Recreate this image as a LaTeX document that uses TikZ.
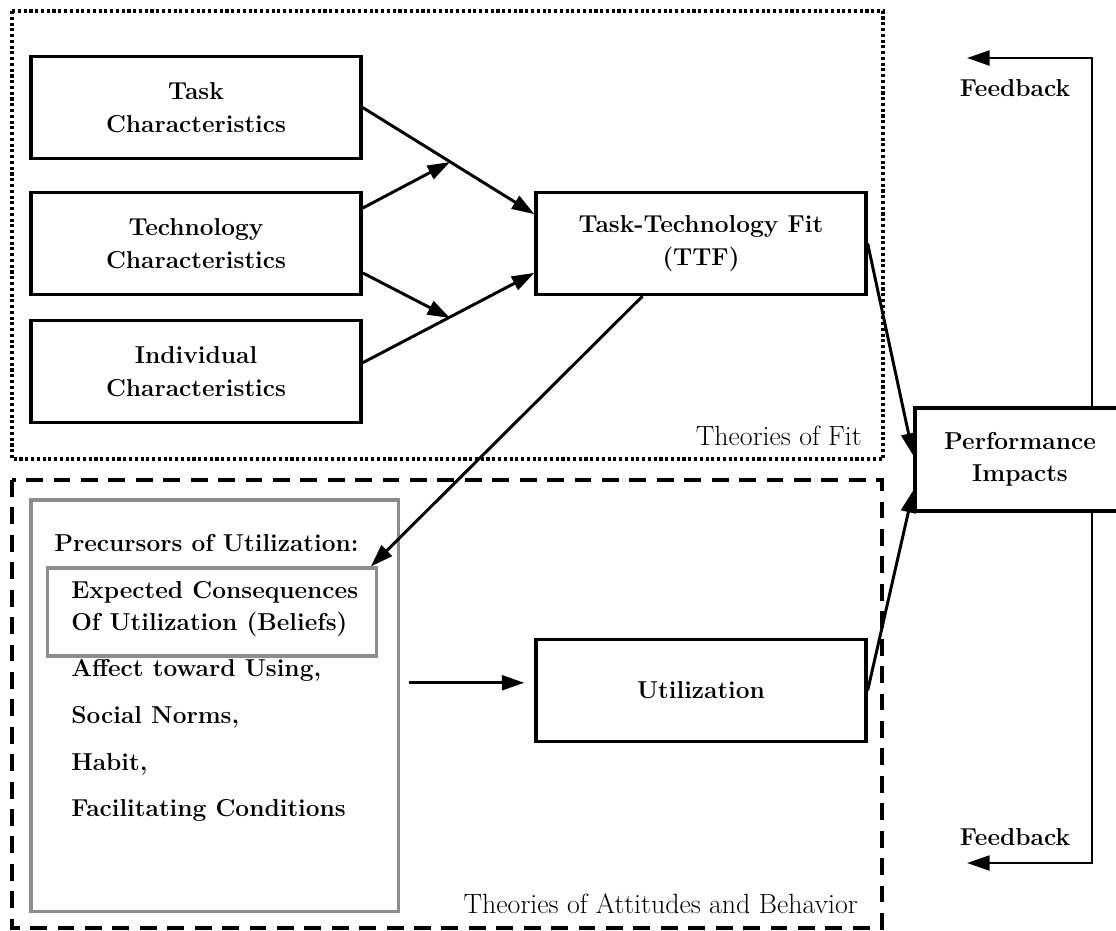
\documentclass[tikz,border=0pt]{standalone}
\usepackage{fontspec}
\usepackage{tikz}
\usetikzlibrary{arrows.meta}

\begin{document}
\begin{tikzpicture}[x=0.025cm, y=-0.025cm,
    box/.style={draw, line width=2.3pt, align=center, minimum width=8.25cm, minimum height=2.55cm, font=\fontsize{17.4}{23}\selectfont\bfseries},
    graybox/.style={draw=black!45, line width=2.2pt},
    txt/.style={font=\fontsize{17.4}{23}\selectfont\bfseries, inner sep=0pt, anchor=base west},
    frametxt/.style={font=\fontsize{19.8}{24}\selectfont, inner sep=0pt, anchor=base east},
    arr/.style={line width=2.1pt, -{Triangle[length=16pt, width=10.5pt]}}]
    \useasboundingbox (0,0) rectangle (1116,930);

    % frames
    \draw[line width=2.4pt, dash pattern=on 2.2pt off 1.9pt] (12,11) rectangle (883,459);
    \draw[line width=2.3pt, dash pattern=on 12pt off 7.5pt] (12,480) rectangle (882,928);
    \node[frametxt] (FitT) at (862,445) {Theories of Fit};
    \node[frametxt] (AttT) at (858,913) {Theories of Attitudes and Behavior};

    \node[box]  (Task)  at (196, 107.5)  {Task \\ Characteristics};
    \node[box]  (Tech)  at (196, 243.5)  {Technology \\ Characteristics};
    \node[box]  (Indiv) at (196, 371.5)  {Individual \\ Characteristics};
    \node[box]  (TTF)   at (701, 243.5)  {Task-Technology Fit \\ (TTF)};
    \node[box]  (Util)  at (701, 690.5)  {Utilization};
    \node[box, minimum width=5.25cm, minimum height=2.575cm] (Perf) at (1020, 459.5) {Performance \\ Impacts};

    \node[graybox, minimum width=9.175cm, minimum height=10.275cm] (Prec) at (214.5, 705.5) {};
    \node[txt] (PrecT) at (54, 551) {Precursors of Utilization:};
    \node[graybox, minimum width=8.24cm, minimum height=2.2cm] (Exp) at (212, 612) {};
    \node[txt] (Exp1) at (71, 598) {Expected Consequences};
    \node[txt] (Exp2) at (71, 630) {Of Utilization (Beliefs)};
    \node[txt] (Aff)  at (71, 676) {Affect toward Using,};
    \node[txt] (Soc)  at (71, 723) {Social Norms,};
    \node[txt] (Hab)  at (71, 770) {Habit,};
    \node[txt] (Fac)  at (71, 816) {Facilitating Conditions};

    \node[txt, anchor=base] (FbTop) at (1015, 96)  {Feedback};
    \node[txt, anchor=base] (FbBot) at (1015, 845) {Feedback};

    \coordinate (up)  at (450, 162);
    \coordinate (low) at (450, 318);
    \coordinate (FT)  at (967, 58);
    \coordinate (FB)  at (967, 863);

    \draw[arr] (Task.east) -- (TTF.170);
    \draw[arr] (Tech.12) -- (up);
    \draw[arr] (Tech.-10) -- (low);
    \draw[arr] (Indiv.3) -- (TTF.190);

    \draw[arr] (TTF.east) -- (Perf.178);
    \draw[arr] (TTF.222) -- (Exp.16);
    \draw[arr, shorten <=0.225cm, shorten >=0.25cm] (Prec.7) -- (Prec.7 -| Util.west);
    \draw[arr] (Util.east) -- (Perf.196);

    \draw[arr, line width=1.9pt] ([xshift=1.8cm]Perf.north) |- (FT);
    \draw[arr, line width=1.9pt] ([xshift=1.8cm]Perf.south) |- (FB);
\end{tikzpicture}
\end{document}
